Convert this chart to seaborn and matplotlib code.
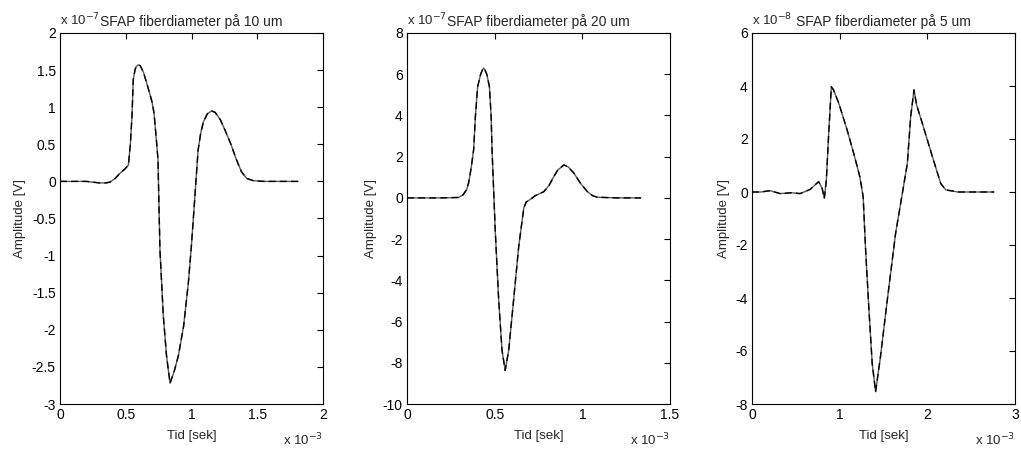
import numpy as np
import pandas as pd
import matplotlib
matplotlib.use("Agg")
import matplotlib.pyplot as plt
import seaborn as sns

# ---- data (x in units of 1e-3 s, y in units shown by the exponent label) ----
t10 = [0, 0.1, 0.2, 0.25, 0.3, 0.35, 0.38, 0.42, 0.456, 0.49, 0.52, 0.535, 0.548, 0.557,
       0.57, 0.58, 0.595, 0.61, 0.635, 0.66, 0.68, 0.70, 0.715, 0.73, 0.745, 0.76, 0.786,
       0.81, 0.837, 0.87, 0.90, 0.94, 0.976, 1.0, 1.02, 1.05, 1.07, 1.09, 1.12, 1.153,
       1.18, 1.22, 1.26, 1.30, 1.34, 1.38, 1.42, 1.47, 1.55, 1.7, 1.81]
a10 = [0, 0, 0, -0.01, -0.02, -0.02, -0.01, 0.04, 0.11, 0.16, 0.22, 0.5, 0.9, 1.37,
       1.5, 1.55, 1.57, 1.56, 1.47, 1.32, 1.2, 1.07, 0.92, 0.62, 0.3, -0.92, -1.82,
       -2.35, -2.72, -2.55, -2.35, -1.95, -1.37, -0.85, -0.35, 0.42, 0.65, 0.8, 0.91,
       0.95, 0.93, 0.83, 0.67, 0.5, 0.3, 0.13, 0.04, 0.01, 0, 0, 0]

t20 = [0, 0.1, 0.2, 0.294, 0.32, 0.34, 0.351, 0.365, 0.38, 0.39, 0.403, 0.42, 0.43,
       0.437, 0.445, 0.455, 0.47, 0.48, 0.485, 0.504, 0.523, 0.542, 0.56, 0.58, 0.608,
       0.637, 0.666, 0.68, 0.704, 0.73, 0.78, 0.81, 0.837, 0.86, 0.895, 0.92, 0.952,
       0.99, 1.029, 1.06, 1.086, 1.2, 1.334]
a20 = [0, 0, 0, 0.02, 0.15, 0.4, 0.71, 1.4, 2.33, 3.94, 5.4, 6.0, 6.2, 6.3, 6.2, 6.0,
       5.4, 3.94, 2.33, -1.72, -4.96, -7.4, -8.37, -7.4, -4.96, -2.37, -0.5, -0.2,
       -0.07, 0.1, 0.3, 0.6, 1.03, 1.35, 1.6, 1.5, 1.2, 0.7, 0.3, 0.1, 0.03, 0, 0]

t5 = [0, 0.1, 0.206, 0.32, 0.45, 0.55, 0.664, 0.76, 0.80, 0.825, 0.848, 0.875, 0.905,
      0.93, 0.99, 1.085, 1.16, 1.23, 1.268, 1.294, 1.332, 1.371, 1.41, 1.466, 1.543,
      1.638, 1.715, 1.772, 1.81, 1.848, 1.878, 1.943, 2.058, 2.153, 2.21, 2.35, 2.76]
a5 = [0, 0, 0.05, -0.06, -0.03, -0.06, 0.1, 0.39, 0.14, -0.24, 0.45, 2.21, 3.97,
      3.85, 3.35, 2.34, 1.46, 0.58, -0.18, -2.06, -4.33, -6.47, -7.54, -6.2, -4.08,
      -1.56, -0.05, 1.08, 2.84, 3.85, 3.28, 2.59, 1.33, 0.32, 0.08, 0, 0]

titles = ["SFAP fiberdiameter på 10 um", "SFAP fiberdiameter på 20 um",
          "SFAP fiberdiameter på 5 um"]
y_exps = ["-7", "-7", "-8"]
x_limits = [(0, 2), (0, 1.5), (0, 3)]
x_steps = [0.5, 0.5, 1]
y_limits = [(-3, 2), (-10, 8), (-8, 6)]
y_steps = [0.5, 2, 2]

sns.set_style("white")
plt.rcParams["font.family"] = ["Liberation Sans", "DejaVu Sans"]
plt.rcParams["axes.unicode_minus"] = False

fig = plt.figure(figsize=(10.21, 4.53), dpi=100)
lefts = [60 / 1021, 407 / 1021, 752 / 1021]
width = 263 / 1021
bottom = 1 - 404 / 453
height = (404 - 33) / 453

series = [(t10, a10), (t20, a20), (t5, a5)]
for i, (tx, ay) in enumerate(series):
    ax = fig.add_axes([lefts[i], bottom, width, height])
    df = pd.DataFrame({"t": tx, "a": ay})
    sns.lineplot(data=df, x="t", y="a", ax=ax, color="0.35", lw=1.0,
                 estimator=None, sort=False)
    sns.lineplot(data=df, x="t", y="a", ax=ax, color="black", lw=1.0,
                 estimator=None, sort=False, linestyle=(0, (5, 3)))
    xl, yl = x_limits[i], y_limits[i]
    ax.set_xlim(*xl)
    ax.set_ylim(*yl)
    ax.set_xticks(np.arange(xl[0], xl[1] + 1e-9, x_steps[i]))
    ax.set_yticks(np.arange(yl[0], yl[1] + 1e-9, y_steps[i]))
    ax.xaxis.set_major_formatter(matplotlib.ticker.FuncFormatter(lambda v, p: f"{v:g}"))
    ax.yaxis.set_major_formatter(matplotlib.ticker.FuncFormatter(lambda v, p: f"{v:g}"))
    ax.tick_params(direction="in", length=4, width=0.8, top=True, right=True,
                   labelsize=10, colors="black", pad=3)
    for s in ax.spines.values():
        s.set_color("black")
        s.set_linewidth(0.8)
        s.set_visible(True)
    ax.set_xlabel("Tid [sek]", fontsize=9.5, labelpad=6)
    ax.set_ylabel("Amplitude [V]", fontsize=9.5, labelpad=4)
    ax.set_title(titles[i], fontsize=10, pad=5)
    ax.text(0.0, 1.012, "x 10$^{" + y_exps[i] + "}$", transform=ax.transAxes,
            ha="left", va="bottom", fontsize=9.5)
    ax.text(1.0, -0.075, "x 10$^{-3}$", transform=ax.transAxes,
            ha="right", va="top", fontsize=9.5)

fig.savefig("out.png", dpi=100, facecolor="white")
